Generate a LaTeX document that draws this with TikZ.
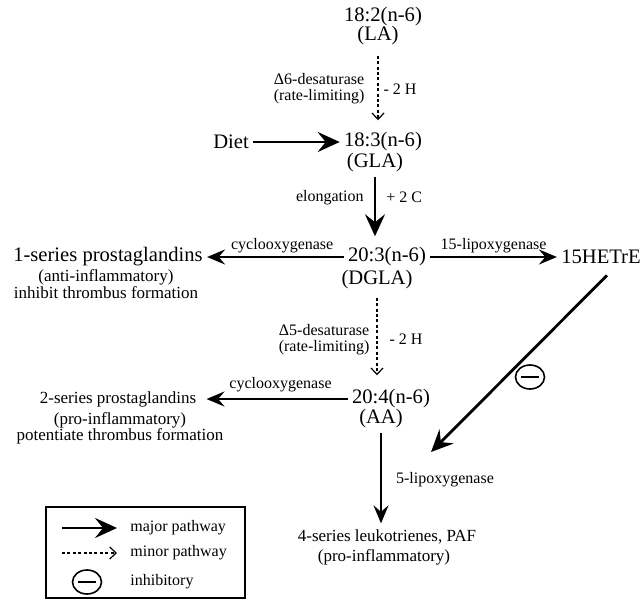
\documentclass[tikz,border=0pt]{standalone}
\usepackage{fontspec}
\setmainfont{Liberation Serif}
\usetikzlibrary{positioning,arrows.meta,shapes.geometric}

\tikzset{
  cpd/.style={font=\fontsize{10.3}{12}\selectfont, inner sep=2pt},
  note/.style={font=\fontsize{8.5}{8.1}\selectfont, align=center, inner sep=1pt},
  enz/.style={font=\fontsize{8}{8}\selectfont, align=center, inner sep=1pt},
  major/.style={line width=1.4pt, -{Stealth[length=11pt,width=10pt,inset=4pt]}},
  branch/.style={line width=1.1pt, -{Stealth[length=9pt,width=7.5pt,inset=3.2pt]}},
  minor/.style={line width=0.6pt, dash pattern=on 1.5pt off 1.2pt, -{Straight Barb[length=3.2pt,width=6pt]}},
  inhib/.style={draw, ellipse, line width=0.8pt, minimum width=14.5pt, minimum height=12pt, inner sep=0pt,
    path picture={\draw[line width=1.3pt] ([xshift=-4.5pt]path picture bounding box.center) -- ([xshift=4.5pt]path picture bounding box.center);}}
}

\begin{document}
\begin{tikzpicture}[x=0.5pt, y=-0.5pt]
\useasboundingbox (0,0) rectangle (643,600);

% fatty acids
\node[cpd] (la) at (383,17) {18:2(n-6)};
\node[cpd] (laab) at (378,36) {(LA)};
\node[cpd] (diet) at (231,142) {Diet};
\node[cpd] (gla) at (383,142) {18:3(n-6)};
\node[cpd] (glaab) at (375,163) {(GLA)};
\node[cpd] (dgla) at (387,257) {20:3(n-6)};
\node[cpd] (dglaab) at (377,280) {(DGLA)};
\node[cpd] (aa) at (391,399) {20:4(n-6)};
\node[cpd] (aaab) at (381,419) {(AA)};

% products
\node[cpd] (pg1) at (108,257) {1-series prostaglandins};
\node[note] (pg1note) at (106,284) {(anti-inflammatory)\\inhibit thrombus formation};
\node[cpd] (hetre) at (601,257) {15HETrE};
\node[note] (pg2) at (118,399) {2-series prostaglandins};
\node[note] (pg2note) at (120,428) {(pro-inflammatory)\\potentiate thrombus formation};
\node[note] (lt4) at (387,537) {4-series leukotrienes, PAF};
\node[note] (lt4note) at (384,557) {(pro-inflammatory)};

% pathway
\draw[minor, shorten <=3pt, shorten >=4pt] (laab) -- (laab |- gla.north)
    node[enz, midway, left=5.5pt] {Δ6-desaturase\\(rate-limiting)}
    node[enz, midway, right=1.5pt] {- 2 H};
\draw[major] (diet) -- (gla);
\draw[major, shorten >=3.5pt] (glaab) -- (glaab |- dgla.north)
    node[enz, pos=0.31, left=4pt] {elongation}
    node[enz, pos=0.31, right=4pt] {+ 2 C};
\draw[branch] (dgla) -- (pg1)
    node[enz, pos=0.45, above=0.5pt] {cyclooxygenase};
\draw[branch] (dgla) -- (hetre)
    node[enz, midway, above=0.5pt] {15-lipoxygenase};
\draw[minor, shorten <=2pt, shorten >=5pt] (dglaab) -- (dglaab |- aa.north)
    node[enz, midway, left=2.5pt] {Δ5-desaturase\\(rate-limiting)}
    node[enz, midway, right=5pt] {- 2 H};
\draw[branch, shorten >=4pt] (aa) -- (pg2)
    node[enz, pos=0.45, above=2pt] {cyclooxygenase};
\draw[branch, shorten >=2pt] (aaab) -- (aaab |- lt4.north)
    node[enz, midway, right=6pt] {5-lipoxygenase};

% inhibition by 15HETrE
\coordinate (lo5) at (431,452);
\draw[major] ([shift={(6,7)}]hetre.south) -- (lo5);
\node[inhib] (inh) at (530,377) {};

% key
\node[draw, line width=0.6pt, minimum width=99.5pt, minimum height=45.5pt, inner sep=0pt] (legend) at (145.5,552.5) {};
\coordinate (majA) at (62,528);
\coordinate (majB) at (117,528);
\draw[major] (majA) -- (majB);
\node[enz, anchor=west] (majtxt) at (128,528) {major pathway};
\coordinate (minA) at (62,553);
\coordinate (minB) at (117,553);
\draw[minor] (minA) -- (minB);
\node[enz, anchor=west] (mintxt) at (128,553) {minor pathway};
\node[inhib] (inhkey) at (87,582) {};
\node[enz, anchor=west] (inhtxt) at (128,582) {inhibitory};

\end{tikzpicture}
\end{document}
